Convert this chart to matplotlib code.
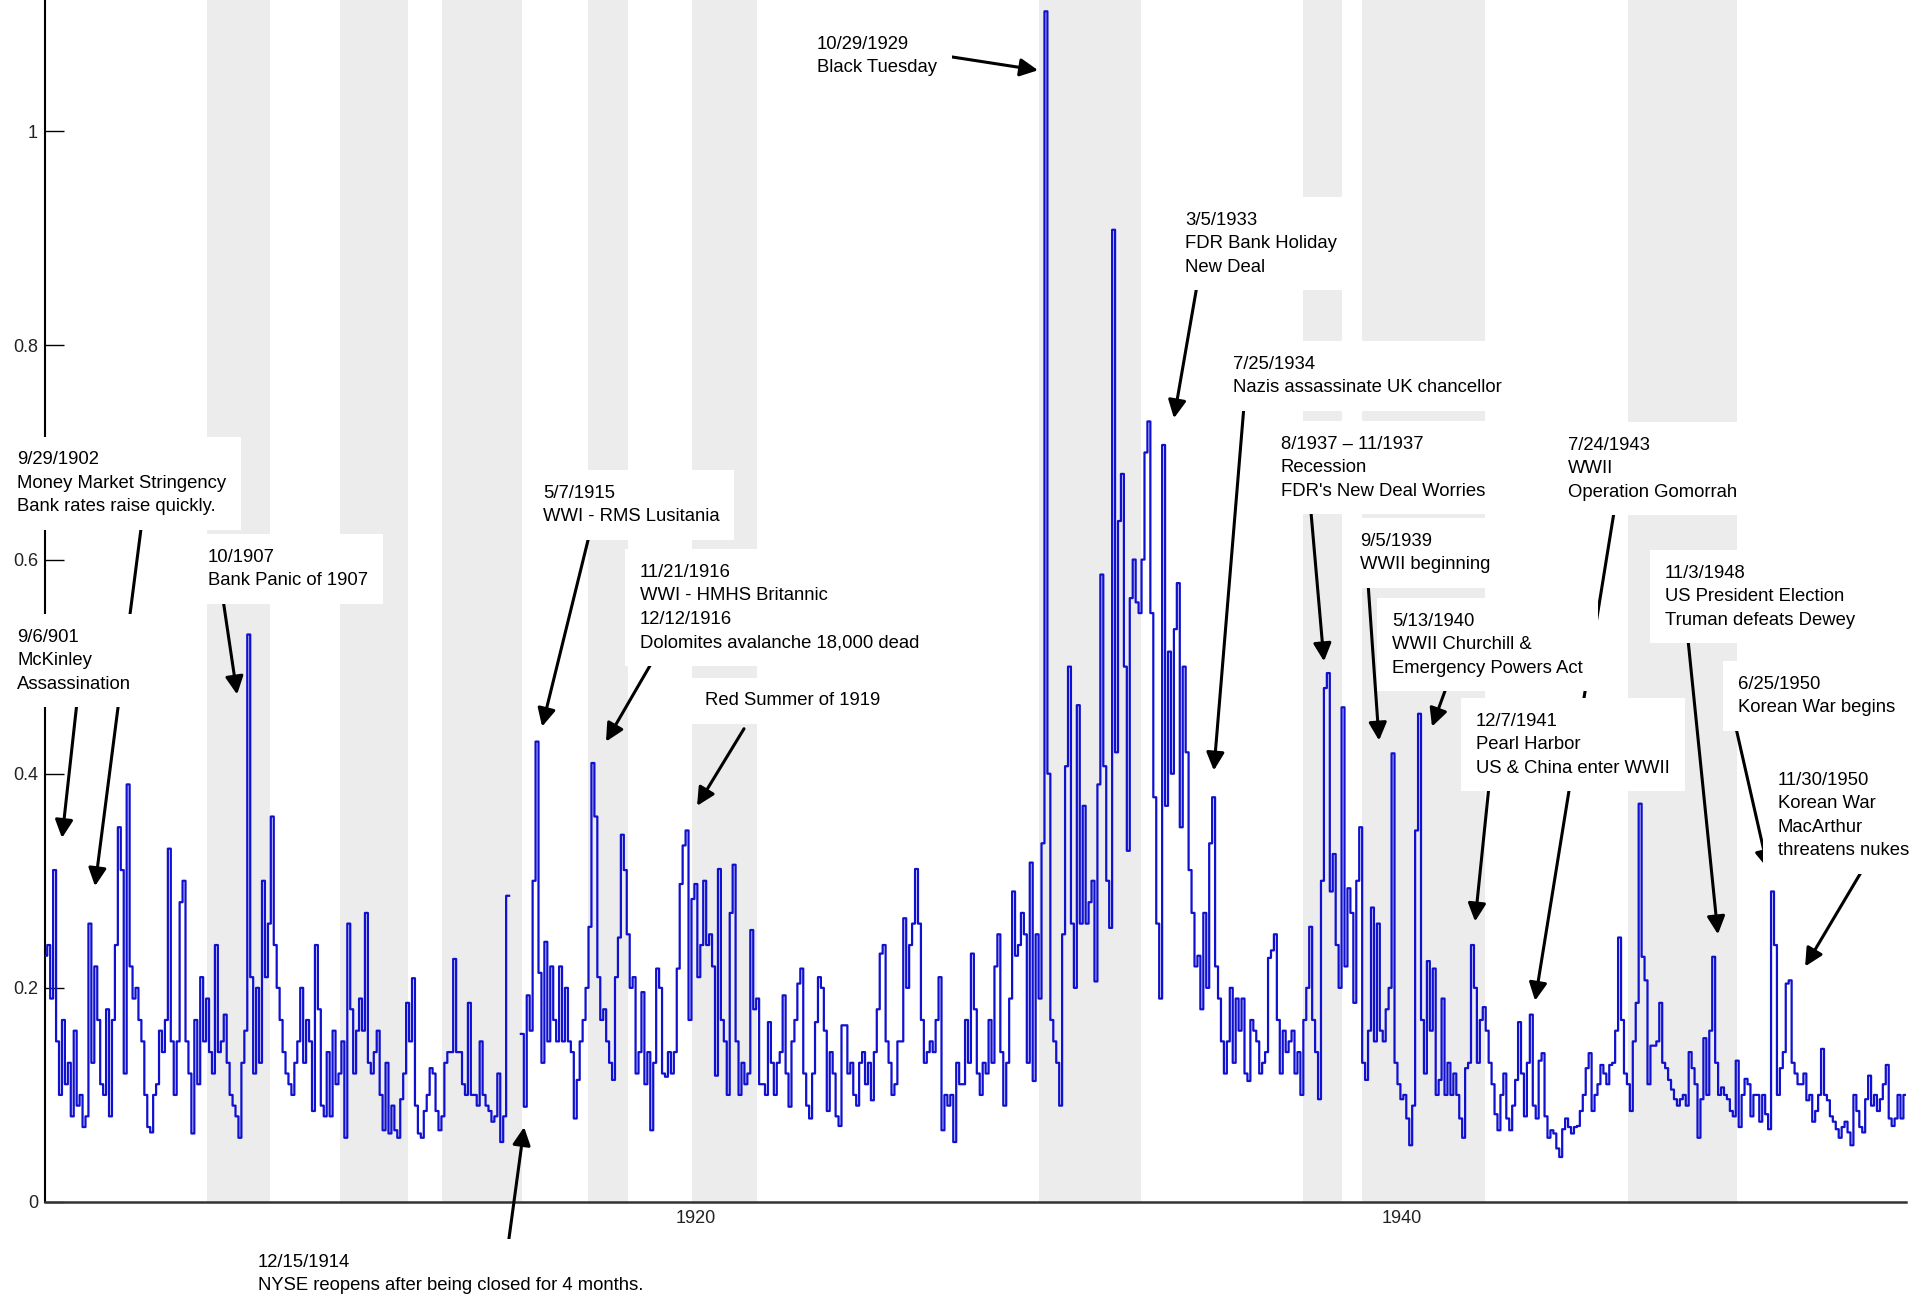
import numpy as np
import matplotlib
matplotlib.use("Agg")
import matplotlib.pyplot as plt

nan = np.nan

# ---------------- data (monthly readings of the volatility series) ----------------
start_year = 1901.58
months_per_year = 12

vol_1901_1910 = [0.23, 0.24, 0.19, 0.31, 0.15, 0.10, 0.17, 0.11, 0.13, 0.08,
                 0.16, 0.09, 0.10, 0.07, 0.08, 0.26, 0.13, 0.22, 0.17, 0.11,
                 0.10, 0.18, 0.08, 0.17, 0.24, 0.35, 0.31, 0.12, 0.39, 0.22,
                 0.19, 0.20, 0.17, 0.15, 0.10, 0.07, 0.065, 0.10, 0.11, 0.16,
                 0.14, 0.17, 0.33, 0.15, 0.10, 0.15, 0.28, 0.30, 0.15, 0.12,
                 0.064, 0.17, 0.11, 0.21, 0.15, 0.19, 0.14, 0.12, 0.24, 0.14,
                 0.15, 0.175, 0.13, 0.10, 0.09, 0.08, 0.06, 0.13, 0.16, 0.53,
                 0.21, 0.12, 0.20, 0.13, 0.30, 0.21, 0.26, 0.36, 0.24, 0.20,
                 0.17, 0.14, 0.12, 0.11, 0.10, 0.13, 0.15, 0.20, 0.13, 0.17,
                 0.15, 0.085, 0.24, 0.18, 0.09, 0.08, 0.14, 0.08, 0.16, 0.11,
                 0.12, 0.15, 0.06, 0.26, 0.18, 0.12]

vol_1910_1919 = [0.16, 0.19, 0.16, 0.27, 0.13, 0.12, 0.14, 0.16, 0.10, 0.067,
                 0.13, 0.064, 0.09, 0.067, 0.06, 0.096, 0.12, 0.186, 0.15, 0.209,
                 0.09, 0.064, 0.06, 0.085, 0.10, 0.125, 0.12, 0.085, 0.067, 0.08,
                 0.13, 0.14, 0.14, 0.227, 0.14, 0.14, 0.11, 0.10, 0.186, 0.10,
                 0.10, 0.09, 0.15, 0.10, 0.09, 0.085, 0.075, 0.08, 0.12, 0.056,
                 0.08, 0.286, nan, nan, nan, nan, 0.157, 0.089, 0.193, 0.16,
                 0.30, 0.43, 0.214, 0.13, 0.243, 0.15, 0.22, 0.17, 0.15, 0.22,
                 0.15, 0.20, 0.15, 0.14, 0.078, 0.114, 0.15, 0.17, 0.20, 0.257,
                 0.41, 0.36, 0.21, 0.17, 0.18, 0.15, 0.13, 0.114, 0.21, 0.247,
                 0.343, 0.31, 0.25, 0.20, 0.21, 0.12, 0.14, 0.196, 0.11, 0.14,
                 0.067, 0.13, 0.218, 0.20, 0.12]

vol_1919_1927 = [0.117, 0.14, 0.12, 0.14, 0.218, 0.297, 0.333, 0.347, 0.17, 0.283,
                 0.297, 0.21, 0.24, 0.30, 0.24, 0.25, 0.22, 0.118, 0.311, 0.17,
                 0.15, 0.10, 0.27, 0.315, 0.15, 0.10, 0.13, 0.11, 0.12, 0.254,
                 0.18, 0.19, 0.11, 0.11, 0.10, 0.168, 0.13, 0.10, 0.13, 0.14,
                 0.193, 0.12, 0.089, 0.15, 0.17, 0.204, 0.218, 0.12, 0.09, 0.078,
                 0.12, 0.168, 0.21, 0.20, 0.16, 0.085, 0.14, 0.12, 0.08, 0.071,
                 0.165, 0.165, 0.12, 0.13, 0.10, 0.09, 0.13, 0.14, 0.11, 0.13,
                 0.095, 0.14, 0.18, 0.232, 0.24, 0.15, 0.13, 0.10, 0.11, 0.15,
                 0.15, 0.265, 0.20, 0.24, 0.26, 0.311, 0.26, 0.17, 0.13, 0.14,
                 0.15, 0.14, 0.17, 0.21, 0.067, 0.10, 0.09, 0.10, 0.056, 0.13,
                 0.11, 0.11, 0.17, 0.13, 0.232]

vol_1927_1936 = [0.18, 0.12, 0.10, 0.13, 0.12, 0.17, 0.13, 0.22, 0.25, 0.14,
                 0.09, 0.13, 0.19, 0.29, 0.23, 0.24, 0.27, 0.25, 0.13, 0.317,
                 0.113, 0.25, 0.19, 0.335, 1.112, 0.40, 0.17, 0.15, 0.13, 0.09,
                 0.25, 0.407, 0.50, 0.26, 0.20, 0.464, 0.26, 0.37, 0.26, 0.28,
                 0.30, 0.206, 0.39, 0.586, 0.407, 0.30, 0.256, 0.908, 0.42, 0.636,
                 0.68, 0.50, 0.328, 0.564, 0.60, 0.56, 0.55, 0.60, 0.70, 0.729,
                 0.55, 0.378, 0.26, 0.19, 0.707, 0.37, 0.514, 0.40, 0.535, 0.578,
                 0.35, 0.50, 0.42, 0.31, 0.27, 0.22, 0.23, 0.18, 0.27, 0.20,
                 0.335, 0.378, 0.22, 0.19, 0.15, 0.12, 0.15, 0.20, 0.13, 0.19,
                 0.16, 0.19, 0.12, 0.113, 0.17, 0.16, 0.15, 0.12, 0.13, 0.14,
                 0.228, 0.235, 0.25, 0.17, 0.12]

vol_1936_1945 = [0.16, 0.14, 0.15, 0.16, 0.12, 0.14, 0.10, 0.17, 0.20, 0.257,
                 0.17, 0.14, 0.096, 0.30, 0.48, 0.494, 0.29, 0.325, 0.24, 0.20,
                 0.462, 0.22, 0.293, 0.27, 0.186, 0.30, 0.35, 0.13, 0.114, 0.16,
                 0.275, 0.15, 0.26, 0.16, 0.15, 0.18, 0.20, 0.419, 0.13, 0.11,
                 0.096, 0.10, 0.078, 0.053, 0.09, 0.347, 0.456, 0.17, 0.12, 0.225,
                 0.16, 0.218, 0.10, 0.114, 0.19, 0.10, 0.13, 0.10, 0.12, 0.10,
                 0.078, 0.06, 0.125, 0.13, 0.24, 0.20, 0.13, 0.17, 0.182, 0.16,
                 0.13, 0.11, 0.082, 0.067, 0.10, 0.12, 0.078, 0.067, 0.09, 0.114,
                 0.168, 0.12, 0.08, 0.13, 0.175, 0.09, 0.078, 0.132, 0.139, 0.08,
                 0.06, 0.067, 0.064, 0.05, 0.042, 0.068, 0.078, 0.07, 0.064, 0.07,
                 0.071, 0.085, 0.10, 0.125, 0.139, 0.085]

vol_1945_1954 = [0.10, 0.11, 0.128, 0.12, 0.11, 0.128, 0.13, 0.16, 0.247, 0.17,
                 0.12, 0.11, 0.085, 0.15, 0.186, 0.372, 0.229, 0.207, 0.11, 0.146,
                 0.146, 0.15, 0.186, 0.13, 0.125, 0.114, 0.105, 0.096, 0.09, 0.096,
                 0.10, 0.09, 0.14, 0.125, 0.11, 0.06, 0.096, 0.153, 0.10, 0.16,
                 0.229, 0.13, 0.10, 0.107, 0.10, 0.096, 0.085, 0.08, 0.132, 0.07,
                 0.10, 0.115, 0.11, 0.08, 0.10, 0.10, 0.075, 0.10, 0.082, 0.068,
                 0.29, 0.24, 0.10, 0.125, 0.14, 0.204, 0.207, 0.13, 0.12, 0.11,
                 0.11, 0.12, 0.095, 0.10, 0.075, 0.085, 0.10, 0.143, 0.10, 0.095,
                 0.08, 0.075, 0.068, 0.06, 0.07, 0.075, 0.065, 0.053, 0.10, 0.085,
                 0.07, 0.065, 0.096, 0.118, 0.09, 0.10, 0.085, 0.096, 0.11, 0.128,
                 0.078, 0.071, 0.078, 0.10, 0.078, 0.10]

volatility = np.concatenate([vol_1901_1910, vol_1910_1919, vol_1919_1927,
                             vol_1927_1936, vol_1936_1945, vol_1945_1954])
years = start_year + np.arange(len(volatility)) / months_per_year

# shaded periods (years)
band_start = [1906.15, 1909.92, 1912.80, 1916.94, 1919.89, 1929.72, 1937.20, 1938.87, 1946.40]
band_end = [1907.93, 1911.84, 1915.07, 1918.07, 1921.73, 1932.61, 1938.30, 1942.35, 1949.49]

y_ticks = [0, 0.2, 0.4, 0.6, 0.8, 1.0]
y_tick_labels = ["0", "0.2", "0.4", "0.6", "0.8", "1"]
x_ticks = [1920, 1940]
x_tick_labels = ["1920", "1940"]

# (label, text top-left (year, value), arrow start (year, value), arrow tip (year, value))
events = [
    ("9/29/1902\nMoney Market Stringency\nBank rates raise quickly.",
     (1900.765, 0.701), (1904.31, 0.637), (1902.975, 0.295)),
    ("9/6/901\nMcKinley\nAssassination",
     (1900.765, 0.5355), (1902.465, 0.467), (1902.04, 0.340)),
    ("10/1907\nBank Panic of 1907",
     (1906.176, 0.610), (1906.60, 0.563), (1907.00, 0.474)),
    ("5/7/1915\nWWI - RMS Lusitania",
     (1915.666, 0.670), (1916.97, 0.622), (1915.64, 0.444)),
    ("11/21/1916\nWWI - HMHS Britannic\n12/12/1916\nDolomites avalanche 18,000 dead",
     (1918.41, 0.596), (1918.75, 0.504), (1917.45, 0.430)),
    ("Red Summer of 1919",
     (1920.25, 0.476), (1921.36, 0.442), (1920.03, 0.370)),
    ("10/29/1929\nBlack Tuesday",
     (1923.43, 1.0894), (1926.94, 1.071), (1929.69, 1.057)),
    ("3/5/1933\nFDR Bank Holiday\nNew Deal",
     (1933.85, 0.925), (1934.22, 0.861), (1933.54, 0.732)),
    ("7/25/1934\nNazis assassinate UK chancellor",
     (1935.21, 0.7905), (1935.52, 0.742), (1934.67, 0.403)),
    ("8/1937 \u2013 11/1937\nRecession\nFDR's New Deal Worries",
     (1936.57, 0.7158), (1937.42, 0.645), (1937.79, 0.505)),
    ("9/5/1939\nWWII beginning",
     (1938.81, 0.625), (1939.04, 0.577), (1939.35, 0.431)),
    ("5/13/1940\nWWII Churchill &\nEmergency Powers Act",
     (1939.72, 0.5505), (1941.27, 0.482), (1940.85, 0.444)),
    ("12/7/1941\nPearl Harbor\nUS & China enter WWII",
     (1942.10, 0.457), (1942.46, 0.387), (1942.07, 0.262)),
    ("7/24/1943\nWWII\nOperation Gomorrah",
     (1944.70, 0.7148), (1946.01, 0.645), (1943.77, 0.188)),
    ("11/3/1948\nUS President Election\nTruman defeats Dewey",
     (1947.45, 0.5953), (1948.10, 0.526), (1948.95, 0.250)),
    ("6/25/1950\nKorean War begins",
     (1949.52, 0.4916), (1949.46, 0.443), (1950.37, 0.311)),
    ("11/30/1950\nKorean War\nMacArthur\nthreatens nukes",
     (1950.65, 0.402), (1953.06, 0.311), (1951.42, 0.220)),
    ("12/15/1914\nNYSE reopens after being closed for 4 months.",
     (1907.59, -0.0482), (1914.70, -0.0346), (1915.13, 0.070)),
]

# ---------------- drawing ----------------
W, H = 1909, 1297
fig = plt.figure(figsize=(W / 100, H / 100), dpi=100)
ax = fig.add_axes([45 / W, 95 / H, 1861 / W, 1202 / H])
ax.set_xlim(1901.558, 1954.278)
ax.set_ylim(0, 1.1226)

for s, e in zip(band_start, band_end):
    ax.axvspan(s, e, color="#ececec", lw=0, zorder=0)

ax.plot(years, volatility, drawstyle="steps-mid", color="#1010d0", lw=1.6, zorder=3)

for side in ("top", "right"):
    ax.spines[side].set_visible(False)
ax.spines["left"].set_linewidth(1.5)
ax.spines["left"].set_color("black")
ax.spines["bottom"].set_linewidth(1.8)
ax.spines["bottom"].set_color("#333333")

tick_font = ["Liberation Sans Narrow", "Liberation Sans", "DejaVu Sans"]
ax.set_yticks(y_ticks)
ax.set_yticklabels(y_tick_labels, family=tick_font, fontsize=13, color="#222222")
ax.set_xticks(x_ticks)
ax.set_xticklabels(x_tick_labels, family=tick_font, fontsize=13, color="#222222")
ax.tick_params(axis="y", direction="in", length=13.7, width=1.0, pad=5)
ax.tick_params(axis="x", length=0, pad=6)

arrow_kw = dict(arrowstyle="-|>", color="black", lw=2.2, mutation_scale=27,
                shrinkA=0, shrinkB=0)
for label, tpos, apos, tip in events:
    ax.annotate("", xy=tip, xytext=apos, xycoords="data", textcoords="data",
                arrowprops=arrow_kw, annotation_clip=False, zorder=5)
    ax.text(tpos[0], tpos[1], label, fontsize=13.3, family=["Liberation Sans", "DejaVu Sans"],
            ha="left", va="top", linespacing=1.5, color="black",
            bbox=dict(boxstyle="square,pad=0.8", fc="white", ec="none"),
            zorder=6, clip_on=False)

fig.savefig("out.png", dpi=100)
